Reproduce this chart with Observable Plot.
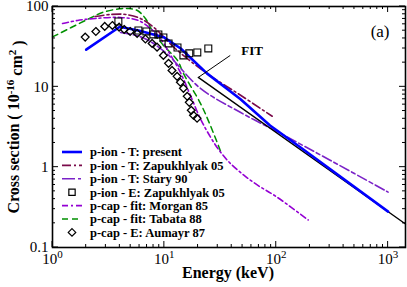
<!DOCTYPE html>
<html><head><meta charset="utf-8">
<script src="https://cdn.jsdelivr.net/npm/d3@7"></script>
<script src="https://cdn.jsdelivr.net/npm/@observablehq/plot@0.6"></script>
<style>body{margin:0;background:#fff}</style>
</head><body><div id="chart"></div>
<script>
// ---- data (energy keV, cross section 1e-16 cm^2) ----
const ionPresentE = [2, 4, 6, 10, 14, 24, 48, 88, 164, 1000];
const ionPresentS = [29, 56, 50, 41, 30, 14.7, 7.0, 3.3, 1.77, 0.28];
const ionZapE = [2.4, 3.3, 4.5, 6.1, 8.3, 12.5, 24, 48, 92];
const ionZapS = [75, 79.6, 79.6, 71, 53, 30, 14.7, 7.85, 4.3];
const ionStaryE = [4.05, 6.36, 10.2, 21, 47.7, 108.6, 303, 1000];
const ionStaryS = [47.5, 41.2, 26.8, 9.58, 4.82, 2.64, 1.22, 0.489];
const ionExpE = [3.88, 5.86, 6.9, 7.97, 8.84, 9.8, 10.9, 13.1, 14.8, 16.7, 19.7, 24.7];
const ionExpS = [65.1, 50.3, 48.9, 44.9, 44.9, 41.2, 34.7, 30.9, 24.6, 26.1, 26.8, 30.1];
const capMorganE = [1.23, 1.67, 2.42, 4.05, 5.86, 7.5, 9.2, 11.0, 13.9, 17.1, 21, 25.7, 30.5, 38, 51, 69, 100, 193];
const capMorganS = [61.5, 67, 71, 73, 67, 53.3, 40, 26.8, 15.1, 7.8, 4.0, 2.4, 1.66, 1.15, 0.8, 0.59, 0.43, 0.22];
const capTabataE = [1, 1.97, 2.79, 3.96, 4.77, 5.74, 6.77, 7.97, 9.8, 13.1, 14.8, 21, 25.7, 32.3];
const capTabataS = [41.8, 67, 84.2, 93.6, 94.4, 89.2, 71, 47.5, 32.8, 21.3, 14.7, 6.24, 3.33, 1.49];
const capExpE = [1.96, 2.44, 2.93, 3.43, 3.94, 4.37, 4.94, 5.71, 6.77, 7.77, 8.6, 9.8, 10.9, 11.7, 13.0, 13.9, 14.8, 16.0, 16.7, 17.4, 18.2, 19.6];
const capExpS = [41.6, 48.9, 56.5, 58.1, 55.3, 51.8, 48.9, 46.2, 39.4, 34.7, 31.2, 24.6, 19.6, 16.0, 13.5, 11.4, 9.58, 7.62, 6.41, 5.1, 4.43, 4.06];
const fitE = [20.1, 1430];
const fitS = [13.1, 0.196];
const fitLabel = [{E: 48.7, S: 28.4, text: "FIT"}];
const fitLeader = [{E1: 20.1, S1: 13.1, E2: 38.8, S2: 24.6}];

const xMajor = [1, 10, 100, 1000];
const xExpo = ["0", "1", "2", "3"];
const yMajor = [0.1, 1, 10, 100];
const yMajorLabels = ["0.1", "1", "10", "100"];
const legendLabels = [
  "p-ion - T: present",
  "p-ion - T: Zapukhlyak 05",
  "p-ion - T: Stary 90",
  "p-ion - E: Zapukhlyak 05",
  "p-cap - fit: Morgan 85",
  "p-cap - fit: Tabata 88",
  "p-cap - E: Aumayr 87"
];

// ---- build ----
const pts = (E, S) => E.map((e, i) => ({E: e, S: S[i]}));
const xMinor = [];
for (const d of [1, 10, 100, 1000]) for (let k = 2; k <= 9; k++) if (k * d <= 1430) xMinor.push(k * d);
const yMinor = [];
for (const d of [0.1, 1, 10]) for (let k = 2; k <= 9; k++) yMinor.push(+(k * d).toPrecision(3));

const C = {
  blue: "#0000ff", maroon: "#7a0a4a", indigo: "#7a22c8", violet: "#9400d3", green: "#009000", black: "#000"
};
const serif = "'Liberation Serif', 'Times New Roman', serif";

const chart = Plot.plot({
  width: 407, height: 287,
  marginLeft: 52, marginRight: 2, marginTop: 6, marginBottom: 40,
  style: {fontFamily: serif, background: "white", overflow: "visible"},
  x: {type: "log", domain: [1, 1430]},
  y: {type: "log", domain: [0.1, 100]},
  marks: [
    Plot.line(pts(capTabataE, capTabataS), {x: "E", y: "S", stroke: C.green, strokeWidth: 1.5, strokeDasharray: "6,4", curve: "catmull-rom"}),
    Plot.line(pts(ionZapE, ionZapS), {x: "E", y: "S", stroke: C.maroon, strokeWidth: 1.6, strokeDasharray: "9,3,2,3", curve: "catmull-rom"}),
    Plot.line(pts(capMorganE, capMorganS), {x: "E", y: "S", stroke: C.violet, strokeWidth: 1.6, strokeDasharray: "6,3,2,3", curve: "catmull-rom"}),
    Plot.line(pts(ionStaryE, ionStaryS), {x: "E", y: "S", stroke: C.indigo, strokeWidth: 1.6, strokeDasharray: "10,3,4,3", curve: "catmull-rom"}),
    Plot.line(pts(fitE, fitS), {x: "E", y: "S", stroke: C.black, strokeWidth: 1.4}),
    Plot.line(pts(ionPresentE, ionPresentS), {x: "E", y: "S", stroke: C.blue, strokeWidth: 2.6}),
    Plot.dot(pts(ionExpE, ionExpS), {x: "E", y: "S", symbol: "square", r: 3.9, stroke: "black", strokeWidth: 1.1, fill: "none"}),
    Plot.dot(pts(capExpE, capExpS), {x: "E", y: "S", symbol: "diamond2", r: 3.5, stroke: "black", strokeWidth: 1.3, fill: "none"}),
    Plot.link(fitLeader, {x1: "E1", y1: "S1", x2: "E2", y2: "S2", stroke: "black", strokeWidth: 1}),
    Plot.text(fitLabel, {x: "E", y: "S", text: "text", fontWeight: "bold", fontSize: 13, textAnchor: "start", fill: "black"}),
    Plot.text(["(a)"], {frameAnchor: "top-right", text: d => d, dx: -16, dy: 18, fontSize: 17, fill: "black"}),
    // tick labels
    Plot.axisX(xMajor, {anchor: "bottom", tickSize: 0, tickPadding: 6, tickFormat: () => "10", fontSize: 15, label: null}),
    Plot.axisY(yMajor, {anchor: "left", tickSize: 0, tickPadding: 4, tickFormat: (d) => yMajorLabels[yMajor.indexOf(d)], fontSize: 15, label: null}),
    Plot.frame({stroke: "black", strokeWidth: 1.6})
  ]
});

const svg = d3.select(chart);
const xs = chart.scale("x"), ys = chart.scale("y");
const [xL, xR] = xs.range, [yB, yT] = ys.range;

// inward ticks on all four sides, placed through Plot's scales
const tg = svg.append("g").attr("stroke", "black").attr("stroke-width", 1);
const tick = (x1, y1, x2, y2) => tg.append("line").attr("x1", x1).attr("y1", y1).attr("x2", x2).attr("y2", y2);
for (const [vals, len] of [[xMajor, 6], [xMinor, 3]]) for (const v of vals) {
  const px = xs.apply(v);
  tick(px, yB, px, yB - len);
  tick(px, yT, px, yT + len);
}
for (const [vals, len] of [[yMajor, 6], [yMinor, 3]]) for (const v of vals) {
  const py = ys.apply(v);
  tick(xL, py, xL + len, py);
  tick(xR, py, xR - len, py);
}

// exponents on x tick labels
let xi = 0;
svg.selectAll('g[aria-label="x-axis tick label"] text').each(function () {
  const t = d3.select(this);
  t.text("10");
  t.append("tspan").attr("dy", "-0.55em").attr("font-size", 11).text(xExpo[xi++]);
});
svg.selectAll('g[aria-label="x-axis tick label"], g[aria-label="y-axis tick label"]').attr("fill", "black");

// axis titles
svg.append("text")
  .attr("x", 228).attr("y", 278)
  .attr("text-anchor", "middle").attr("font-family", serif).attr("font-weight", "bold").attr("font-size", 16)
  .attr("fill", "black")
  .text("Energy (keV)");
const yt = svg.append("text")
  .attr("transform", "translate(19,127) rotate(-90)")
  .attr("text-anchor", "middle").attr("font-family", serif).attr("font-weight", "bold").attr("font-size", 16)
  .attr("fill", "black");
yt.append("tspan").text("Cross section ( 10");
yt.append("tspan").attr("dy", "-0.5em").attr("font-size", 11).text("-16");
yt.append("tspan").attr("dy", "0.5em").text(" cm");
yt.append("tspan").attr("dy", "-0.5em").attr("font-size", 11).text("2");
yt.append("tspan").attr("dy", "0.5em").text(" )");

// legend
const legStyles = [
  {stroke: C.blue, w: 2.6, dash: null},
  {stroke: C.maroon, w: 1.6, dash: "9,3,2,3"},
  {stroke: C.indigo, w: 1.6, dash: "13,3,3,3"},
  {symbol: d3.symbolSquare, size: 40},
  {stroke: C.violet, w: 1.6, dash: "6,3,2,3"},
  {stroke: C.green, w: 1.5, dash: "6,4"},
  {symbol: d3.symbolDiamond2, size: 36}
];
const leg = svg.append("g").attr("font-family", serif).attr("font-weight", "bold").attr("font-size", 12.5).attr("text-anchor", "start");
legendLabels.forEach((lab, i) => {
  const y = 152 + i * 13.4;
  const s = legStyles[i];
  if (s.symbol) {
    leg.append("path").attr("d", d3.symbol(s.symbol, s.size)()).attr("transform", `translate(72,${y})`)
      .attr("fill", "none").attr("stroke", "black").attr("stroke-width", 1.2);
  } else {
    leg.append("line").attr("x1", 62).attr("x2", 82).attr("y1", y).attr("y2", y)
      .attr("stroke", s.stroke).attr("stroke-width", s.w).attr("stroke-dasharray", s.dash);
  }
  leg.append("text").attr("x", 90).attr("y", y + 4.3).attr("fill", "black").text(lab);
});

document.getElementById("chart").appendChild(chart);
</script>
</body></html>
